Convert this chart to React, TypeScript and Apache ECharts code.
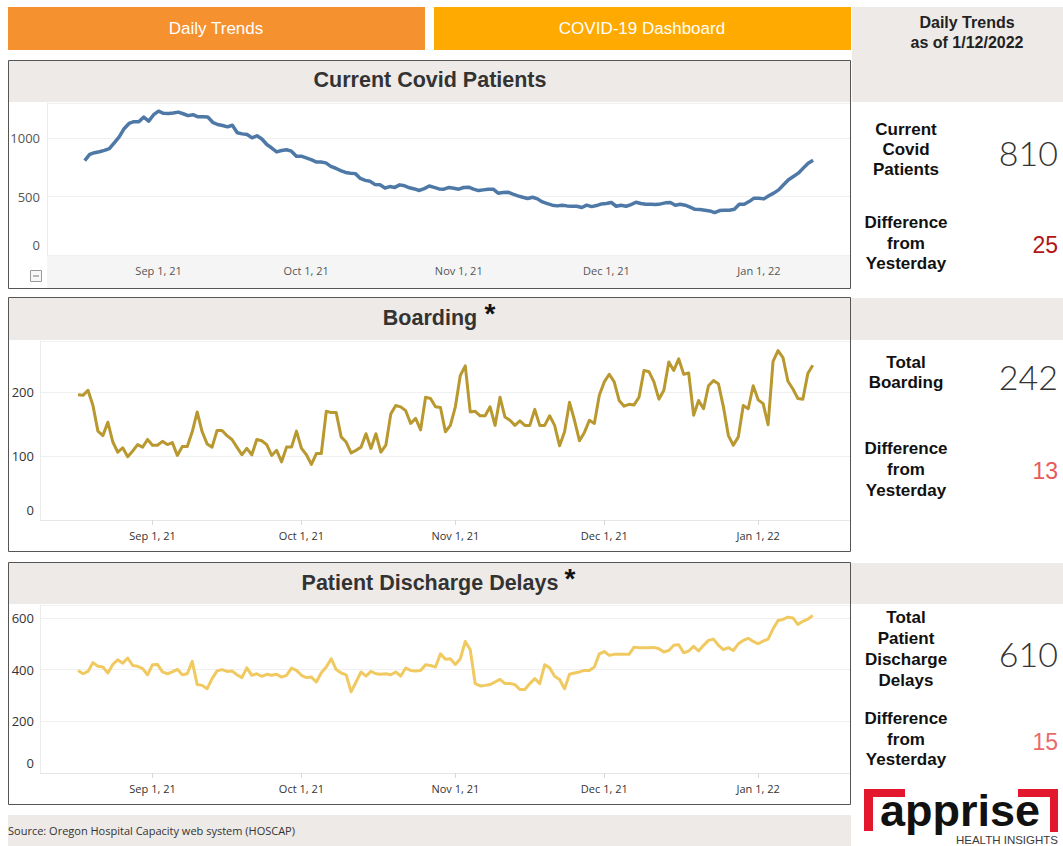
import React, { useEffect, useRef } from 'react';
import * as echarts from 'echarts';

// ---- data (daily values, Aug 17, 2021 .. Jan 12, 2022) ----
const START_YEAR = 2021;
const START_MONTH = 7; // August (0-based)
const START_DAY = 17;

const covidPatients = [
  808, 860, 875, 883, 895, 910, 960, 1010, 1080, 1125, 1140, 1140, 1180, 1145, 1200, 1230, 1212, 1210, 1214, 1222,
  1208, 1192, 1200, 1182, 1182, 1180, 1135, 1116, 1108, 1096, 1110, 1045, 1036, 1030, 1002, 1020, 992, 945, 915, 882,
  894, 900, 888, 845, 845, 830, 815, 796, 795, 788, 758, 742, 722, 706, 700, 696, 655, 638, 630, 602,
  600, 573, 585, 578, 600, 592, 575, 565, 552, 568, 590, 578, 565, 563, 578,
  571, 563, 577, 580, 563, 551, 557, 563, 563, 529, 534, 537, 520, 506, 494, 483, 494, 480, 454, 440,
  426, 420, 426, 420, 417, 417, 406, 426, 414, 423, 437, 440, 449, 417, 426, 417, 431, 451, 440, 434,
  434, 431, 437, 446, 449, 426, 434, 426, 409, 391, 389, 383, 377, 363, 380, 383, 383, 391, 434, 434,
  457, 486, 486, 480, 506, 529, 557, 600, 643, 671, 700, 743, 785, 810,
];

const boarding = [
  196, 195, 203, 179, 139, 132, 153, 122, 106, 113, 99, 108, 118, 114, 126, 117, 117, 123, 118, 121,
  101, 115, 115, 138, 169, 138, 119, 114, 140, 140, 132, 126, 114, 102, 112, 102, 126, 124, 118, 101,
  109, 91, 114, 114, 139, 112, 102, 87, 104, 104, 170, 168, 168, 130, 122, 105, 109, 114, 135, 112,
  135, 106, 117, 166, 179, 177, 171, 151, 159, 141, 192, 190, 177, 176, 138, 148,
  177, 226, 241, 169, 170, 163, 163, 177, 148, 192, 161, 156, 148, 155, 148, 148, 173, 148, 148, 163,
  148, 116, 138, 184, 156, 124, 137, 156, 151, 195, 216, 228, 216, 187, 178, 181, 180, 192, 234, 232,
  216, 189, 203, 247, 234, 252, 228, 230, 164, 187, 174, 210, 218, 213, 177, 132, 117, 130, 179, 174,
  210, 188, 182, 149, 248, 265, 254, 217, 205, 190, 189, 229, 242,
];

const dischargeDelays = [
  397, 384, 393, 427, 413, 410, 387, 420, 438, 425, 445, 416, 413, 404, 380, 419, 420, 391, 384, 391,
  401, 380, 384, 432, 342, 339, 326, 365, 395, 400, 393, 395, 380, 369, 407, 378, 384, 374, 382, 378,
  382, 371, 378, 406, 397, 378, 369, 371, 352, 388, 410, 442, 400, 387, 380, 314, 352, 391, 375, 393,
  384, 382, 384, 380, 391, 375, 406, 397, 395, 397, 419, 416, 410, 461, 440,
  442, 420, 442, 509, 477, 346, 337, 339, 342, 352, 362, 346, 346, 342, 323, 323, 346, 365, 346, 419,
  407, 374, 362, 326, 382, 387, 391, 397, 397, 410, 461, 470, 455, 459, 459, 459, 459, 487, 485, 485,
  485, 486, 481, 468, 474, 494, 496, 465, 472, 490, 472, 494, 513, 518, 494, 477, 485, 474, 500, 513,
  521, 509, 500, 510, 518, 558, 590, 594, 603, 600, 575, 587, 595, 610,
];

const MONTHS = ['Jan', 'Feb', 'Mar', 'Apr', 'May', 'Jun', 'Jul', 'Aug', 'Sep', 'Oct', 'Nov', 'Dec'];
const DAY = 86400000;
const AXIS_MIN = new Date(2021, 7, 9, 8).getTime();
const AXIS_MAX = new Date(2022, 0, 19, 12).getTime();

const FONT = '"Liberation Sans", Arial, sans-serif';
const TICK_FONT = '"Open Sans", "Noto Sans", sans-serif';
const BAND = '#EEEAE7';

function toSeries(values: number[]) {
  return values.map((v, i) => [new Date(START_YEAR, START_MONTH, START_DAY + i).getTime(), v]);
}

function fmtDate(val: number) {
  const d = new Date(val);
  return `${MONTHS[d.getMonth()]} ${d.getDate()}, ${String(d.getFullYear()).slice(2)}`;
}

function yFmt(step: number) {
  return (v: number) => (v % step === 0 ? (v === 0 ? '{z|0}' : String(v)) : '');
}

function lastDiff(arr: number[]) {
  return arr[arr.length - 1] - arr[arr.length - 2];
}

function App() {
  const ref = useRef<HTMLDivElement>(null);

  useEffect(() => {
    if (!ref.current) return;
    const chart = echarts.init(ref.current, undefined, { renderer: 'svg' });

    const xAxis = (i: number, opts: any) => ({
      type: 'time',
      gridIndex: i,
      min: AXIS_MIN,
      max: AXIS_MAX,
      splitNumber: 5,
      minInterval: 28 * DAY,
      splitLine: { show: false },
      axisLabel: {
        formatter: fmtDate,
        fontFamily: TICK_FONT,
        fontSize: 11,
        color: opts.labelColor,
        margin: opts.margin,
        hideOverlap: false,
      },
      axisLine: opts.axisLine,
      axisTick: opts.axisTick,
    });

    const yAxis = (i: number, max: number, step: number, color: string, margin: number) => ({
      type: 'value',
      gridIndex: i,
      min: 0,
      max,
      interval: step,
      axisLabel: {
        formatter: yFmt(step),
        fontFamily: TICK_FONT,
        fontSize: 13,
        color,
        margin,
        rich: { z: { fontFamily: TICK_FONT, fontSize: 13, color, padding: [0, 0, 20, 0] } },
      },
      axisLine: { show: true, lineStyle: { color: '#ececec' } },
      axisTick: { show: false },
      splitLine: { show: true, lineStyle: { color: '#f0f0f0', width: 1 } },
    });

    const boldLabel = (text: string, y: number, lh: number) => ({
      type: 'text',
      x: 906,
      y,
      z: 20,
      style: {
        text,
        fill: '#111',
        fontFamily: FONT,
        fontSize: 17,
        fontWeight: 'bold',
        align: 'center',
        verticalAlign: 'middle',
        lineHeight: lh,
      },
    });

    const bigNum = (val: number, y: number) => ({
      type: 'text',
      x: 1058,
      y,
      z: 20,
      style: {
        text: String(val),
        fill: '#333',
        fontFamily: 'Lato, "Open Sans", sans-serif',
        fontWeight: 300,
        fontSize: 34,
        align: 'right',
        verticalAlign: 'middle',
      },
    });

    const diffNum = (val: number, y: number, color: string) => ({
      type: 'text',
      x: 1058,
      y,
      z: 20,
      style: {
        text: String(val),
        fill: color,
        fontFamily: FONT,
        fontSize: 23,
        align: 'right',
        verticalAlign: 'middle',
      },
    });

    const title = (text: string, y: number) => ({
      type: 'text',
      x: 430,
      y,
      z: 20,
      style: {
        text,
        fill: '#333',
        fontFamily: FONT,
        fontSize: 21.5,
        fontWeight: 'bold',
        align: 'center',
        verticalAlign: 'middle',
      },
    });

    const asterisk = (x: number, y: number) => ({
      type: 'text',
      x,
      y,
      z: 20,
      style: {
        text: '*',
        fill: '#111',
        fontFamily: FONT,
        fontSize: 28,
        fontWeight: 'bold',
        align: 'center',
        verticalAlign: 'middle',
      },
    });

    const rect = (x: number, y: number, w: number, h: number, fill: string, z = -10) => ({
      type: 'rect',
      z,
      shape: { x, y, width: w, height: h },
      style: { fill },
    });

    const border = (x: number, y: number, w: number, h: number) => ({
      type: 'rect',
      z: 30,
      shape: { x, y, width: w, height: h },
      style: { fill: 'none', stroke: '#555', lineWidth: 1 },
    });

    const elements: any[] = [
      // top buttons
      rect(8, 7, 417, 43, '#F5912F'),
      {
        type: 'text', x: 216, y: 28, z: 20,
        style: { text: 'Daily Trends', fill: '#fff', fontFamily: FONT, fontSize: 17, align: 'center', verticalAlign: 'middle' },
      },
      rect(434, 7, 417, 43, '#FFAA00'),
      {
        type: 'text', x: 642, y: 28, z: 20,
        style: { text: 'COVID-19 Dashboard', fill: '#fff', fontFamily: FONT, fontSize: 17, align: 'center', verticalAlign: 'middle' },
      },
      rect(852, 7, 211, 95, BAND),
      {
        type: 'text', x: 967, y: 32, z: 20,
        style: {
          text: 'Daily Trends\nas of 1/12/2022', fill: '#222', fontFamily: FONT, fontSize: 16, fontWeight: 'bold',
          align: 'center', verticalAlign: 'middle', lineHeight: 20,
        },
      },

      // panel 1
      rect(9, 61, 842, 41, BAND),
      title('Current Covid Patients', 80),
      rect(47, 255, 803, 33, '#F5F5F5'),
      {
        type: 'rect', z: 20, shape: { x: 30.5, y: 270.5, width: 11, height: 11 },
        style: { fill: '#f7f7f7', stroke: '#999', lineWidth: 1 },
      },
      {
        type: 'line', z: 21, shape: { x1: 33, y1: 276, x2: 39, y2: 276 },
        style: { stroke: '#777', lineWidth: 1 },
      },
      border(8.5, 60.5, 842, 228),

      // panel 2
      rect(9, 298, 1054, 42, BAND),
      title('Boarding', 318),
      asterisk(490, 313),
      border(8.5, 297.5, 842, 254),

      // panel 3
      rect(9, 563, 1054, 41, BAND),
      title('Patient Discharge Delays', 583),
      asterisk(570, 578),
      border(8.5, 562.5, 842, 242),

      // source
      rect(8, 815, 843, 31, BAND),
      {
        type: 'text', x: 8, y: 830, z: 20,
        style: {
          text: 'Source: Oregon Hospital Capacity web system (HOSCAP)', fill: '#333',
          fontFamily: TICK_FONT, fontSize: 11, align: 'left', verticalAlign: 'middle',
        },
      },

      // right KPI panel
      boldLabel('Current\nCovid\nPatients', 149, 20),
      bigNum(covidPatients[covidPatients.length - 1], 152),
      boldLabel('Difference\nfrom\nYesterday', 243, 20.5),
      diffNum(lastDiff(covidPatients), 245, '#B31414'),

      boldLabel('Total\nBoarding', 372, 20),
      bigNum(boarding[boarding.length - 1], 376),
      boldLabel('Difference\nfrom\nYesterday', 469, 21),
      diffNum(lastDiff(boarding), 471, '#E8595C'),

      boldLabel('Total\nPatient\nDischarge\nDelays', 649, 20.7),
      bigNum(dischargeDelays[dischargeDelays.length - 1], 653),
      boldLabel('Difference\nfrom\nYesterday', 739, 20.5),
      diffNum(lastDiff(dischargeDelays), 742, '#E86B6B'),

      // logo
      rect(864, 789, 41, 8, '#E3182D', 5),
      rect(864, 789, 9, 42, '#E3182D', 5),
      rect(1018, 789, 40, 8, '#E3182D', 5),
      rect(1050, 789, 8, 43, '#E3182D', 5),
      {
        type: 'text', x: 880, y: 810, z: 20,
        style: {
          text: 'apprise', fill: '#111', fontFamily: FONT, fontSize: 45, fontWeight: 'bold',
          align: 'left', verticalAlign: 'middle', lineHeight: 34,
        },
      },
      {
        type: 'text', x: 1058, y: 839.5, z: 20,
        style: {
          text: 'HEALTH INSIGHTS', fill: '#3a3a3a', fontFamily: FONT, fontSize: 11.5,
          align: 'right', verticalAlign: 'middle', lineHeight: 12,
        },
      },
    ];

    const option: any = {
      animation: false,
      backgroundColor: '#ffffff',
      grid: [
        { left: 47, right: 213, top: 103, bottom: 591 },
        { left: 40, right: 213, top: 341, bottom: 326 },
        { left: 40, right: 213, top: 605, bottom: 73 },
      ],
      xAxis: [
        xAxis(0, { labelColor: '#555', margin: 10, axisLine: { show: false }, axisTick: { show: false } }),
        xAxis(1, {
          labelColor: '#333', margin: 10,
          axisLine: { show: true, lineStyle: { color: '#e6e6e6' } },
          axisTick: { show: true, length: 5, lineStyle: { color: '#d8d8d8' } },
        }),
        xAxis(2, {
          labelColor: '#333', margin: 10,
          axisLine: { show: true, lineStyle: { color: '#e6e6e6' } },
          axisTick: { show: true, length: 5, lineStyle: { color: '#d8d8d8' } },
        }),
      ],
      yAxis: [
        yAxis(0, 1300, 500, '#555', 7),
        yAxis(1, 280, 100, '#333', 6),
        yAxis(2, 650, 200, '#333', 6),
      ],
      series: [
        {
          type: 'line', xAxisIndex: 0, yAxisIndex: 0, data: toSeries(covidPatients),
          showSymbol: false, symbol: 'none', lineStyle: { color: '#4E79A7', width: 3.5, join: 'round' },
        },
        {
          type: 'line', xAxisIndex: 1, yAxisIndex: 1, data: toSeries(boarding),
          showSymbol: false, symbol: 'none', lineStyle: { color: '#B8982F', width: 3, join: 'round' },
        },
        {
          type: 'line', xAxisIndex: 2, yAxisIndex: 2, data: toSeries(dischargeDelays),
          showSymbol: false, symbol: 'none', lineStyle: { color: '#F0C960', width: 3, join: 'round' },
        },
      ],
      graphic: { elements },
    };

    chart.setOption(option);
    return () => chart.dispose();
  }, []);

  return (
    <div
      ref={ref}
      style={{ position: 'fixed', left: 0, top: 0, width: 1063, height: 846, background: '#fff' }}
    />
  );
}

export default App;
